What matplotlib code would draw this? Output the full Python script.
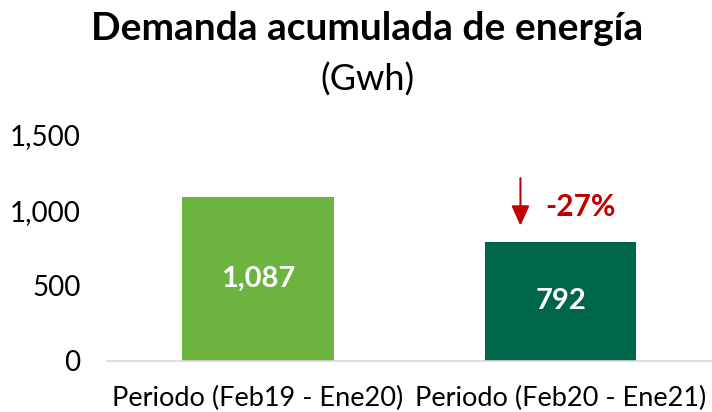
import matplotlib.pyplot as plt

plt.rcParams['font.family'] = ['Lato', 'DejaVu Sans']

periods = ['Periodo (Feb19 - Ene20)', 'Periodo (Feb20 - Ene21)']
demand_gwh = [1087, 792]
bar_colors = ['#6DB33F', '#00664A']
change_label = '-27%'
y_ticks = [0, 500, 1000, 1500]

fig = plt.figure(figsize=(7.12, 4.12), dpi=100)
ax = fig.add_axes([0.150, 0.1238, 0.85, 0.5485])

x = range(len(periods))
bars = ax.bar(x, demand_gwh, width=0.5, color=bar_colors)

for b, v in zip(bars, demand_gwh):
    ax.text(b.get_x() + b.get_width() / 2, v / 2, f'{v:,}', ha='center', va='center',
            color='white', fontsize=21, fontweight='bold')

# drop arrow and percentage next to second bar
ax.annotate('', xy=(0.867, demand_gwh[1] + 88), xytext=(0.867, demand_gwh[1] + 440),
            arrowprops=dict(arrowstyle='-|>,head_width=0.25,head_length=0.55',
                            color='#C00000', lw=1.5, mutation_scale=22))
ax.text(1.064, demand_gwh[1] + 230, change_label, ha='center', va='center',
        color='#C00000', fontsize=21.5, fontweight='bold')

ax.set_xlim(-0.5, 1.5)
ax.set_ylim(0, 1500)
ax.set_xticks(list(x))
ax.set_xticklabels(periods, fontsize=19.5)
ax.set_yticks(y_ticks)
ax.set_yticklabels([f'{t:,}' for t in y_ticks], fontsize=20)
ax.tick_params(axis='y', length=0, pad=19)
ax.tick_params(axis='x', length=0, pad=18)
for s in ['top', 'right', 'left']:
    ax.spines[s].set_visible(False)
ax.spines['bottom'].set_color('#D9D9D9')
ax.spines['bottom'].set_linewidth(1.2)

fig.text(0.516, 0.93, 'Demanda acumulada de energía', ha='center', va='center',
         fontsize=28, fontweight='bold')
fig.text(0.516, 0.808, '(Gwh)', ha='center', va='center', fontsize=26)

fig.savefig('out.png', dpi=100)
